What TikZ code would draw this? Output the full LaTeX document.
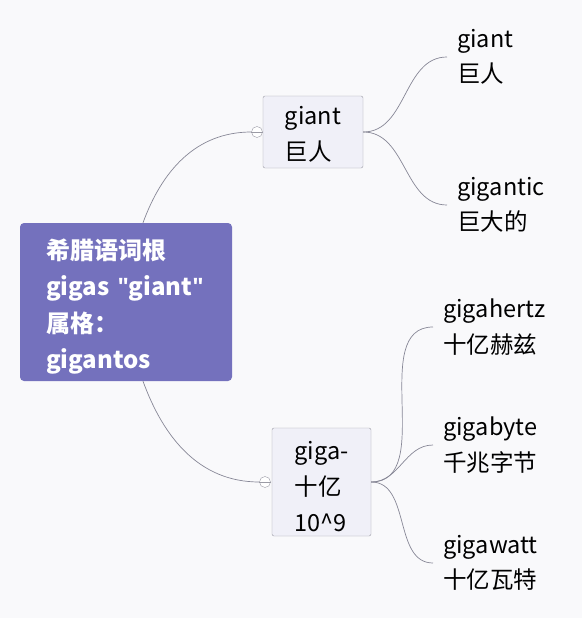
\documentclass[tikz,border=0pt]{standalone}
\usepackage{fontspec}
\setmainfont{Noto Sans CJK SC}
\newfontfamily\quotefont{Open Sans}
\definecolor{paper}{RGB}{249,249,251}
\definecolor{rootfill}{RGB}{116,113,189}
\definecolor{subfill}{RGB}{240,240,248}
\definecolor{subline}{RGB}{155,155,165}
\definecolor{linkcol}{RGB}{135,135,150}
\newcommand{\qt}{{\quotefont\bfseries\symbol{34}}}
\newcommand{\lift}[1]{\rule{0pt}{#1}}

\tikzset{
  rootbox/.style={rectangle, rounded corners=4pt, fill=rootfill, text=white,
    font=\bfseries\fontsize{24}{36.5}\selectfont, align=left,
    text width=160pt, inner xsep=26pt, minimum height=158pt},
  subbox/.style={rectangle, rounded corners=2pt, fill=subfill, draw=subline,
    font=\fontsize{23.5}{36}\selectfont, align=left, minimum height=#1},
  leaf/.style={anchor=west, inner xsep=10pt, align=left,
    font=\fontsize{23.5}{35.5}\selectfont},
  toggle/.style={circle, draw=subline, fill=white, inner sep=0pt,
    minimum size=11pt},
  link/.style={draw=linkcol, line width=0.7pt}
}

\begin{document}
\begin{tikzpicture}[x=1pt, y=-1pt]
  \fill[paper] (0,0) rectangle (582,618);
  \useasboundingbox (0,0) rectangle (582,618);

  % root
  \node[rootbox] (root) at (126,302)
    {\lift{30pt}希腊语词根\\\mbox{gigas \qt giant\qt}\\属格：\\gigantos};

  % second level
  \node[subbox=72pt, minimum width=100pt] (giant) at (313,132) {\lift{23pt}giant\\巨人};
  \node[subbox=108pt, minimum width=99pt] (giga) at (321.5,482) {\lift{27pt}giga-\\十亿\\10\^{}9};

  \node[toggle] (t1) at (257,132) {};
  \node[toggle] (t2) at (265,482) {};
  \draw[subline] (t1.west) -- (t1.east);
  \draw[subline] (t2.west) -- (t2.east);

  % leaves
  \node[leaf] (l1) at (447,57) {giant\\巨人};
  \node[leaf] (l2) at (447,205) {gigantic\\巨大的};
  \node[leaf] (l3) at (433,327) {gigahertz\\十亿赫兹};
  \node[leaf] (l4) at (433,445) {gigabyte\\千兆字节};
  \node[leaf] (l5) at (433,563) {gigawatt\\十亿瓦特};

  % connectors
  \path[link] ([xshift=17pt]root.north) to[out=70, in=180] (t1.west);
  \path[link] ([xshift=17pt]root.south) to[out=-70, in=180] (t2.west);
  \path[link] (giant.east) to[out=0, in=180] (l1.west);
  \path[link] (giant.east) to[out=0, in=180] (l2.west);
  \path[link] (giga.east) to[out=0, in=180] (l3.west);
  \path[link] (giga.east) to[out=0, in=180] (l4.west);
  \path[link] (giga.east) to[out=0, in=180] (l5.west);
\end{tikzpicture}
\end{document}
